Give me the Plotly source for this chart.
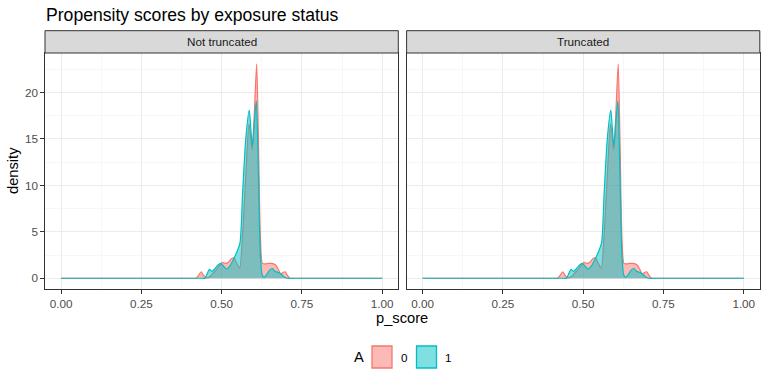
import plotly.graph_objects as go

# ---- data ----
facets = ["Not truncated", "Truncated"]
groups = ["0", "1"]

p_score_0 = [0.0, 0.41, 0.420, 0.428, 0.436, 0.444, 0.452, 0.462, 0.472, 0.482, 0.492, 0.502,
             0.512, 0.520, 0.530, 0.538, 0.547, 0.556, 0.565, 0.575, 0.585, 0.590, 0.595,
             0.601, 0.609, 0.615, 0.621, 0.627, 0.635, 0.645, 0.655, 0.667, 0.676, 0.684,
             0.692, 0.698, 0.704, 0.712, 0.722, 1.0]
density_0 = [0.0, 0.0, 0.0, 0.3, 0.7, 0.3, 0.05, 0.15, 0.5, 0.85, 1.3, 1.7,
             1.6, 1.7, 2.1, 2.2, 1.6, 1.1, 4.6, 11.0, 16.6, 15.4, 13.8,
             17.2, 23.1, 14.0, 4.0, 1.6, 1.55, 1.6, 1.6, 1.45, 1.0, 0.45,
             0.65, 0.7, 0.35, 0.0, 0.0, 0.0]

p_score_1 = [0.0, 0.438, 0.448, 0.455, 0.462, 0.470, 0.478, 0.488, 0.497, 0.506, 0.515, 0.525,
             0.536, 0.547, 0.557, 0.565, 0.575, 0.586, 0.591, 0.596, 0.601, 0.608, 0.614,
             0.620, 0.626, 0.632, 0.640, 0.650, 0.658, 0.666, 0.674, 0.680, 0.688, 0.696,
             0.704, 0.714, 1.0]
density_1 = [0.0, 0.0, 0.0, 0.5, 0.95, 0.75, 1.0, 1.4, 1.6, 1.3, 1.0, 1.3,
             2.0, 2.8, 3.8, 9.0, 15.0, 18.1, 16.0, 14.2, 16.5, 19.1, 12.0,
             3.0, 0.4, 0.1, 0.4, 0.9, 1.05, 0.75, 0.65, 0.6, 0.35, 0.1,
             0.0, 0.0, 0.0]

x_ticks = [0, 0.25, 0.5, 0.75, 1.0]
x_tick_labels = ["0.00", "0.25", "0.50", "0.75", "1.00"]
x_minor = [0.125, 0.375, 0.625, 0.875]
y_ticks = [0, 5, 10, 15, 20]
y_tick_labels = ["0", "5", "10", "15", "20"]
y_minor = [2.5, 7.5, 12.5, 17.5, 22.5]

line_colors = {"0": "#F8766D", "1": "#00BFC4"}
fill_colors = {"0": "rgba(248,118,109,0.5)", "1": "rgba(0,191,196,0.5)"}

W, H = 768, 384
FONT = "Liberation Sans, Arial, Helvetica, sans-serif"

def px(x):
    return x / W

def py(y):
    return 1 - y / H

panel_x = [(45, 398.3), (406.6, 759.8)]
panel_top, panel_bot = 53, 289
strip_top = 30.7

series = {"0": (p_score_0, density_0), "1": (p_score_1, density_1)}

fig = go.Figure()
for i, facet in enumerate(facets):
    xa = "x" if i == 0 else "x2"
    ya = "y" if i == 0 else "y2"
    for g in groups:
        xs, ds = series[g]
        fig.add_trace(go.Scatter(
            x=xs, y=ds, mode="lines", xaxis=xa, yaxis=ya,
            line=dict(color=line_colors[g], width=1.2, shape="spline", smoothing=0.7),
            fill="tozeroy", fillcolor=fill_colors[g],
            name=g, showlegend=False, hoverinfo="skip"))

grid_major = "#EBEBEB"
axis_common = dict(
    showline=True, linecolor="#333333", linewidth=1, mirror=True,
    gridcolor=grid_major, gridwidth=1, zeroline=False,
    tickfont=dict(family=FONT, size=11.7, color="#4D4D4D"),
    ticks="outside", ticklen=3.7, tickcolor="#333333", tickwidth=1,
)

xr = [-0.05, 1.05]
yr = [-1.155, 24.255]

layout = dict(
    width=W, height=H, margin=dict(l=0, r=0, t=0, b=0),
    paper_bgcolor="white", plot_bgcolor="white", showlegend=False,
    font=dict(family=FONT), hovermode=False,
)
for i in range(2):
    xk = "xaxis" if i == 0 else "xaxis2"
    yk = "yaxis" if i == 0 else "yaxis2"
    layout[xk] = dict(axis_common, domain=[px(panel_x[i][0]), px(panel_x[i][1])],
                      range=xr, tickvals=x_ticks, ticktext=x_tick_labels,
                      anchor="y" if i == 0 else "y2", showspikes=False,
                      minor=dict(tickvals=x_minor, showgrid=True,
                                 gridcolor="#F2F2F2", gridwidth=0.6, ticks=""))
    yax = dict(axis_common, domain=[py(panel_bot), py(panel_top)], range=yr,
               tickvals=y_ticks, ticktext=y_tick_labels,
               anchor="x" if i == 0 else "x2", showspikes=False,
               minor=dict(tickvals=y_minor, showgrid=True,
                          gridcolor="#F2F2F2", gridwidth=0.6, ticks=""))
    if i == 1:
        yax.update(showticklabels=False, ticks="", matches="y")
    layout[yk] = yax
fig.update_layout(**layout)

shapes = []
annotations = []
for i, facet in enumerate(facets):
    x0, x1 = panel_x[i]
    shapes.append(dict(type="rect", xref="paper", yref="paper",
                       x0=px(x0), x1=px(x1), y0=py(panel_top), y1=py(strip_top),
                       fillcolor="#D9D9D9", line=dict(color="#333333", width=1)))
    annotations.append(dict(text=facet, xref="paper", yref="paper",
                            x=px((x0 + x1) / 2), y=py((strip_top + panel_top) / 2),
                            xanchor="center", yanchor="middle", showarrow=False,
                            font=dict(family=FONT, size=11.7, color="#1A1A1A")))

# title and axis titles
annotations.append(dict(text="Propensity scores by exposure status", xref="paper", yref="paper",
                        x=px(44), y=py(15), xanchor="left", yanchor="middle", showarrow=False,
                        font=dict(family=FONT, size=17.6, color="black")))
annotations.append(dict(text="p_score", xref="paper", yref="paper",
                        x=px(402), y=py(318), xanchor="center", yanchor="middle", showarrow=False,
                        font=dict(family=FONT, size=14.7, color="black")))
annotations.append(dict(text="density", xref="paper", yref="paper",
                        x=px(13), y=py(171), xanchor="center", yanchor="middle", showarrow=False,
                        textangle=-90, font=dict(family=FONT, size=14.7, color="black")))

# legend (drawn manually, ggplot style)
leg_cy = 357
annotations.append(dict(text="A", xref="paper", yref="paper", x=px(359), y=py(leg_cy),
                        xanchor="center", yanchor="middle", showarrow=False,
                        font=dict(family=FONT, size=14.7, color="black")))
key_x = {"0": 371.5, "1": 416}
for g in groups:
    kx = key_x[g]
    shapes.append(dict(type="rect", xref="paper", yref="paper",
                       x0=px(kx + 0.5), x1=px(kx + 20.5), y0=py(leg_cy + 11), y1=py(leg_cy - 11),
                       fillcolor=fill_colors[g], line=dict(color=line_colors[g], width=1.3)))
    annotations.append(dict(text=g, xref="paper", yref="paper", x=px(kx + 27), y=py(leg_cy),
                            xanchor="left", yanchor="middle", showarrow=False,
                            font=dict(family=FONT, size=11.7, color="black")))

fig.update_layout(shapes=shapes, annotations=annotations)
fig.write_html("out.html",
               config={"displayModeBar": False, "staticPlot": True},
               post_script="document.body.style.margin='0';document.body.style.padding='0';")
